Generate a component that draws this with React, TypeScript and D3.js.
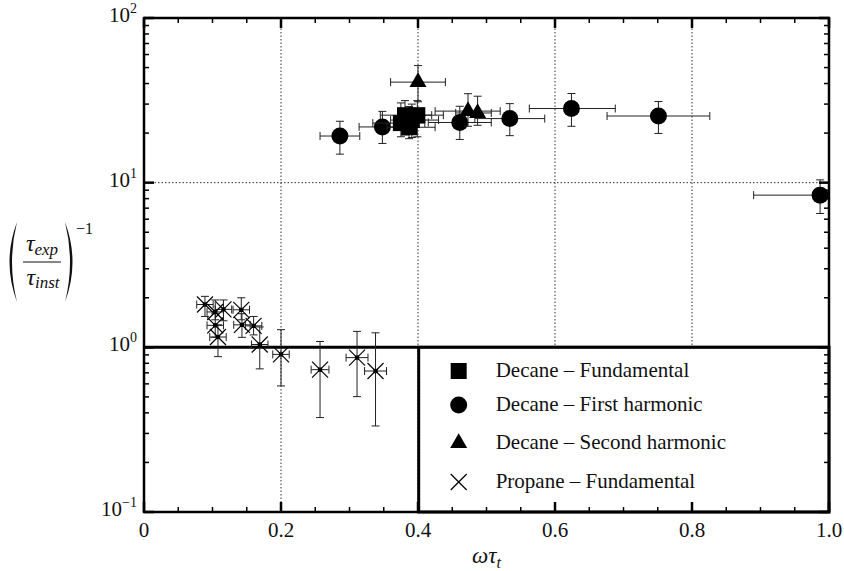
import { useEffect, useRef } from "react";
import * as d3 from "d3";

// values
const xTicks = [0, 0.2, 0.4, 0.6, 0.8, 1.0];
const xTickLabels = ["0", "0.2", "0.4", "0.6", "0.8", "1.0"];
const yDecades = [0.1, 1, 10, 100];
const yExponents = ["\u22121", "0", "1", "2"];

type Pt = { x: number; y: number; xLo: number; xHi: number; yLo: number; yHi: number };

const decaneFundamental: Pt[] = [
  { x: 0.375, y: 23.0, xLo: 0.334, xHi: 0.41, yLo: 19.0, yHi: 30.5 },
  { x: 0.381, y: 25.7, xLo: 0.345, xHi: 0.42, yLo: 19.5, yHi: 31.5 },
  { x: 0.387, y: 21.7, xLo: 0.355, xHi: 0.425, yLo: 18.5, yHi: 29.0 },
  { x: 0.391, y: 24.0, xLo: 0.36, xHi: 0.43, yLo: 18.8, yHi: 30.0 },
  { x: 0.399, y: 25.7, xLo: 0.37, xHi: 0.437, yLo: 19.0, yHi: 31.5 },
];

const decaneFirstHarmonic: Pt[] = [
  { x: 0.286, y: 19.2, xLo: 0.257, xHi: 0.315, yLo: 14.9, yHi: 23.6 },
  { x: 0.348, y: 21.8, xLo: 0.314, xHi: 0.382, yLo: 17.3, yHi: 27.1 },
  { x: 0.461, y: 23.2, xLo: 0.415, xHi: 0.507, yLo: 18.3, yHi: 29.1 },
  { x: 0.534, y: 24.5, xLo: 0.483, xHi: 0.585, yLo: 19.3, yHi: 30.2 },
  { x: 0.624, y: 28.2, xLo: 0.5625, xHi: 0.688, yLo: 22.0, yHi: 34.8 },
  { x: 0.751, y: 25.4, xLo: 0.676, xHi: 0.826, yLo: 19.9, yHi: 31.1 },
  { x: 0.987, y: 8.4, xLo: 0.89, xHi: 1.08, yLo: 6.5, yHi: 10.4 },
];

const decaneSecondHarmonic: Pt[] = [
  { x: 0.4, y: 40.8, xLo: 0.36, xHi: 0.44, yLo: 31.0, yHi: 51.4 },
  { x: 0.473, y: 27.2, xLo: 0.425, xHi: 0.52, yLo: 22.0, yHi: 34.7 },
  { x: 0.487, y: 26.5, xLo: 0.455, xHi: 0.507, yLo: 22.3, yHi: 33.5 },
];

const propaneFundamental: Pt[] = [
  { x: 0.089, y: 1.82, xLo: 0.077, xHi: 0.101, yLo: 1.54, yHi: 2.04 },
  { x: 0.104, y: 1.64, xLo: 0.092, xHi: 0.116, yLo: 1.47, yHi: 1.94 },
  { x: 0.116, y: 1.7, xLo: 0.104, xHi: 0.128, yLo: 1.45, yHi: 1.94 },
  { x: 0.142, y: 1.69, xLo: 0.13, xHi: 0.154, yLo: 1.47, yHi: 2.0 },
  { x: 0.104, y: 1.36, xLo: 0.092, xHi: 0.116, yLo: 1.15, yHi: 1.6 },
  { x: 0.108, y: 1.155, xLo: 0.096, xHi: 0.12, yLo: 0.878, yHi: 1.37 },
  { x: 0.143, y: 1.37, xLo: 0.131, xHi: 0.155, yLo: 1.15, yHi: 1.6 },
  { x: 0.16, y: 1.35, xLo: 0.148, xHi: 0.172, yLo: 1.19, yHi: 1.54 },
  { x: 0.169, y: 1.04, xLo: 0.157, xHi: 0.181, yLo: 0.74, yHi: 1.33 },
  { x: 0.2, y: 0.906, xLo: 0.188, xHi: 0.212, yLo: 0.583, yHi: 1.28 },
  { x: 0.257, y: 0.732, xLo: 0.244, xHi: 0.27, yLo: 0.3745, yHi: 1.085 },
  { x: 0.311, y: 0.866, xLo: 0.295, xHi: 0.327, yLo: 0.502, yHi: 1.25 },
  { x: 0.338, y: 0.718, xLo: 0.322, xHi: 0.354, yLo: 0.333, yHi: 1.225 },
];

const legendLabels = [
  "Decane \u2013 Fundamental",
  "Decane \u2013 First harmonic",
  "Decane \u2013 Second harmonic",
  "Propane \u2013 Fundamental",
];

const SERIF = '"Liberation Serif", "Times New Roman", Times, "DejaVu Serif", serif';

export default function App() {
  const ref = useRef<SVGSVGElement | null>(null);
  const width = 844;
  const height = 571;
  const margin = { top: 18, right: 15, bottom: 59, left: 144 };

  useEffect(() => {
    const svg = d3.select(ref.current);
    svg.selectAll("*").remove();
    svg.style("font-family", SERIF);

    const x = d3.scaleLinear().domain([0, 1]).range([margin.left, width - margin.right]);
    const y = d3.scaleLog().domain([0.1, 100]).range([height - margin.bottom, margin.top]);
    const [x0, x1] = x.range();
    const [y0, y1] = y.range(); // y0 bottom, y1 top

    svg
      .append("defs")
      .append("clipPath")
      .attr("id", "plot")
      .append("rect")
      .attr("x", x0)
      .attr("y", y1)
      .attr("width", x1 - x0)
      .attr("height", y0 - y1);

    // dotted grid
    const grid = svg.append("g").attr("stroke", "#333").attr("stroke-width", 1).attr("stroke-dasharray", "1.5,2");
    [0.2, 0.4, 0.6, 0.8].forEach((t) => {
      grid.append("line").attr("x1", x(t)).attr("x2", x(t)).attr("y1", y1).attr("y2", y0);
    });
    grid.append("line").attr("x1", x0).attr("x2", x1).attr("y1", y(10)).attr("y2", y(10));

    // reference line at 1
    svg
      .append("line")
      .attr("x1", x0)
      .attr("x2", x1)
      .attr("y1", y(1))
      .attr("y2", y(1))
      .attr("stroke", "#000")
      .attr("stroke-width", 3);

    const plot = svg.append("g").attr("clip-path", "url(#plot)");

    const drawErrors = (data: Pt[]) => {
      const g = plot.append("g").attr("stroke", "#222").attr("stroke-width", 1);
      data.forEach((d) => {
        const cx = x(d.x);
        const cy = y(d.y);
        g.append("line").attr("x1", x(d.xLo)).attr("x2", x(d.xHi)).attr("y1", cy).attr("y2", cy);
        [d.xLo, d.xHi].forEach((v) =>
          g.append("line").attr("x1", x(v)).attr("x2", x(v)).attr("y1", cy - 4).attr("y2", cy + 4)
        );
        g.append("line").attr("x1", cx).attr("x2", cx).attr("y1", y(d.yLo)).attr("y2", y(d.yHi));
        [d.yLo, d.yHi].forEach((v) =>
          g.append("line").attr("x1", cx - 4).attr("x2", cx + 4).attr("y1", y(v)).attr("y2", y(v))
        );
      });
    };

    const drawCross = (g: any, cx: number, cy: number) => {
      const s = 8;
      g.append("line").attr("x1", cx - s).attr("x2", cx + s).attr("y1", cy - s).attr("y2", cy + s);
      g.append("line").attr("x1", cx - s).attr("x2", cx + s).attr("y1", cy + s).attr("y2", cy - s);
    };

    // propane
    drawErrors(propaneFundamental);
    const pg = plot.append("g").attr("stroke", "#000").attr("stroke-width", 1.2);
    propaneFundamental.forEach((d) => {
      drawCross(pg, x(d.x), y(d.y));
      pg.append("rect")
        .attr("x", x(d.x) - 1.5)
        .attr("y", y(d.y) - 1.5)
        .attr("width", 3)
        .attr("height", 3)
        .attr("fill", "#000");
    });

    const circle = d3.symbol().type(d3.symbolCircle).size(Math.PI * 8.5 * 8.5);
    const square = d3.symbol().type(d3.symbolSquare).size(16 * 16);
    const triangle = d3.symbol().type(d3.symbolTriangle).size((Math.sqrt(3) / 4) * 17 * 17);

    const drawMarkers = (data: Pt[], sym: any) => {
      drawErrors(data);
      plot
        .append("g")
        .selectAll("path")
        .data(data)
        .join("path")
        .attr("transform", (d) => `translate(${x(d.x)},${y(d.y)})`)
        .attr("d", sym)
        .attr("fill", "#000");
    };

    drawMarkers(decaneFirstHarmonic, circle);
    drawMarkers(decaneSecondHarmonic, triangle);
    drawMarkers(decaneFundamental, square);

    // legend
    const lx = x(0.401);
    const lg = svg.append("g");
    lg.append("rect")
      .attr("x", lx)
      .attr("y", y(1))
      .attr("width", x1 - lx)
      .attr("height", y0 - y(1))
      .attr("fill", "#fff")
      .attr("stroke", "#000")
      .attr("stroke-width", 3);
    const rowY = [371, 405, 443, 482];
    const symbols = [square, circle, triangle, null];
    legendLabels.forEach((label, i) => {
      const mx = lx + 40;
      if (symbols[i]) {
        lg.append("path")
          .attr("transform", `translate(${mx},${rowY[i]})`)
          .attr("d", symbols[i] as any)
          .attr("fill", "#000");
      } else {
        const cg = lg.append("g").attr("stroke", "#000").attr("stroke-width", 1.2);
        drawCross(cg, mx, rowY[i]);
      }
      lg.append("text")
        .attr("x", lx + 77)
        .attr("y", rowY[i] + 6)
        .style("font-family", SERIF)
        .attr("font-size", 21)
        .attr("fill", "#111")
        .text(label);
    });

    // axes frame and ticks
    const ax = svg.append("g").attr("stroke", "#000");
    ax.append("rect")
      .attr("x", x0)
      .attr("y", y1)
      .attr("width", x1 - x0)
      .attr("height", y0 - y1)
      .attr("fill", "none")
      .attr("stroke-width", 2.5);

    const xMinor = d3.range(0, 21).map((i) => i * 0.05);
    xMinor.forEach((t, i) => {
      const len = i % 4 === 0 ? 10 : 5;
      const sw = i % 4 === 0 ? 2.5 : 1.5;
      ax.append("line").attr("x1", x(t)).attr("x2", x(t)).attr("y1", y0).attr("y2", y0 - len).attr("stroke-width", sw);
      ax.append("line").attr("x1", x(t)).attr("x2", x(t)).attr("y1", y1).attr("y2", y1 + len).attr("stroke-width", sw);
    });

    const yMinor: number[] = [];
    [0.1, 1, 10].forEach((dec) => {
      for (let k = 2; k <= 9; k++) yMinor.push(dec * k);
    });
    yMinor.forEach((v) => {
      ax.append("line").attr("x1", x0).attr("x2", x0 + 5).attr("y1", y(v)).attr("y2", y(v)).attr("stroke-width", 1.5);
      ax.append("line").attr("x1", x1).attr("x2", x1 - 5).attr("y1", y(v)).attr("y2", y(v)).attr("stroke-width", 1.5);
    });
    yDecades.forEach((v) => {
      ax.append("line").attr("x1", x0).attr("x2", x0 + 10).attr("y1", y(v)).attr("y2", y(v)).attr("stroke-width", 2.5);
      ax.append("line").attr("x1", x1).attr("x2", x1 - 10).attr("y1", y(v)).attr("y2", y(v)).attr("stroke-width", 2.5);
    });

    // tick labels
    const tl = svg.append("g").style("font-family", SERIF).attr("fill", "#111");
    xTicks.forEach((t, i) => {
      tl.append("text")
        .attr("x", x(t))
        .attr("y", y0 + 25)
        .attr("text-anchor", "middle")
        .attr("font-size", 21)
        .text(xTickLabels[i]);
    });
    yDecades.forEach((v, i) => {
      const t = tl.append("text").attr("x", x0 - 7).attr("y", y(v) + 4).attr("text-anchor", "end");
      t.append("tspan").attr("font-size", 21).text("10");
      t.append("tspan").attr("font-size", 14).attr("dy", -9).text(yExponents[i]);
    });

    // x label
    const xl = svg
      .append("text")
      .attr("x", (x0 + x1) / 2)
      .attr("y", 563)
      .attr("text-anchor", "middle")
      .style("font-family", SERIF)
      .attr("font-style", "italic")
      .attr("fill", "#111");
    xl.append("tspan").attr("font-size", 23).text("\u03c9\u03c4");
    xl.append("tspan").attr("font-size", 16).attr("dy", 5).text("t");

    // y label
    const yl = svg.append("g").attr("fill", "#111").style("font-family", SERIF);
    yl.append("path").attr("d", "M17,222 Q2,262 17,302 Q7,262 17,222 Z");
    yl.append("path").attr("d", "M65,222 Q80,262 65,302 Q75,262 65,222 Z");
    yl.append("line")
      .attr("x1", 23)
      .attr("x2", 61)
      .attr("y1", 262)
      .attr("y2", 262)
      .attr("stroke", "#111")
      .attr("stroke-width", 1.2);
    const top = yl.append("text").attr("x", 42).attr("y", 251).attr("text-anchor", "middle").attr("font-style", "italic");
    top.append("tspan").attr("font-size", 24).text("\u03c4");
    top.append("tspan").attr("font-size", 17).attr("dy", 4).text("exp");
    const bot = yl.append("text").attr("x", 43).attr("y", 285).attr("text-anchor", "middle").attr("font-style", "italic");
    bot.append("tspan").attr("font-size", 24).text("\u03c4");
    bot.append("tspan").attr("font-size", 17).attr("dy", 3).text("inst");
    yl.append("text").attr("x", 76).attr("y", 234).attr("font-size", 16).text("\u22121");
  }, []);

  return (
    <svg
      ref={ref}
      width={width}
      height={height}
      style={{ position: "absolute", left: 0, top: 0, background: "#fff" }}
    />
  );
}
